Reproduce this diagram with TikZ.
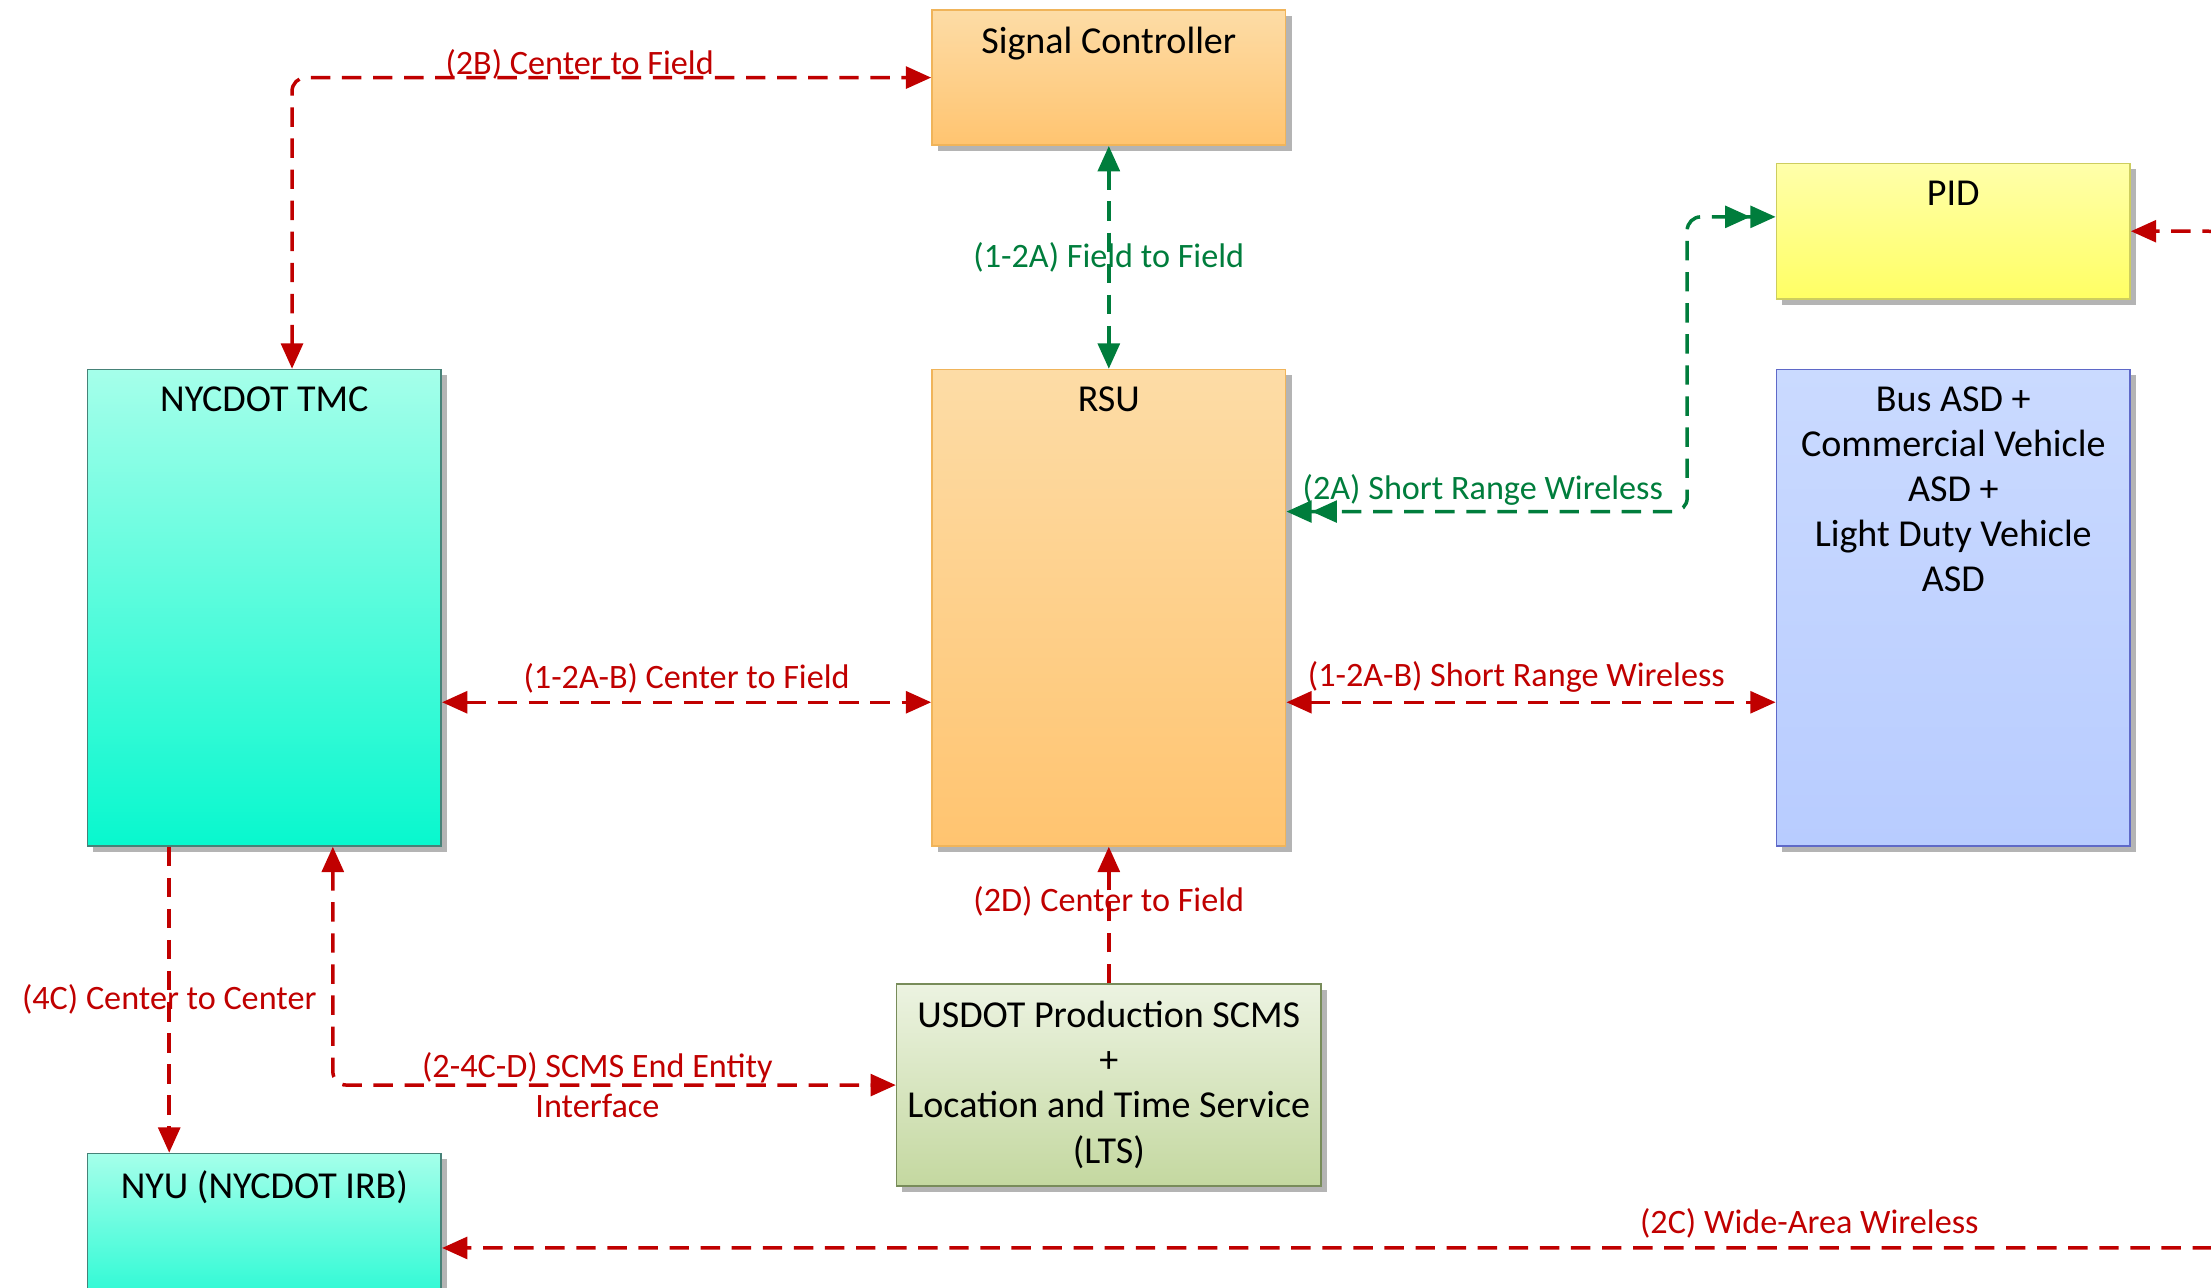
\documentclass[tikz,border=0pt]{standalone}
\usepackage{fontspec}
\setmainfont{Carlito}
\usepackage{tikz}
\usetikzlibrary{arrows.meta}
\usetikzlibrary{shadows}
\usetikzlibrary{positioning}
\definecolor{linkred}{RGB}{192,0,0}
\definecolor{linkgreen}{RGB}{0,125,60}
\definecolor{shadowgray}{RGB}{180,180,180}
\definecolor{orgtop}{RGB}{253,220,166}
\definecolor{orgbot}{RGB}{255,196,112}
\definecolor{orgline}{RGB}{240,180,90}
\definecolor{tealtop}{RGB}{165,255,234}
\definecolor{tealbot}{RGB}{8,248,206}
\definecolor{tealline}{RGB}{70,130,120}
\definecolor{yeltop}{RGB}{255,255,170}
\definecolor{yelbot}{RGB}{255,255,100}
\definecolor{yelline}{RGB}{205,205,95}
\definecolor{bluetop}{RGB}{202,218,255}
\definecolor{bluebot}{RGB}{184,204,255}
\definecolor{blueline}{RGB}{95,105,200}
\definecolor{olvtop}{RGB}{236,243,225}
\definecolor{olvbot}{RGB}{196,216,160}
\definecolor{olvline}{RGB}{120,140,90}
\def\colsep{4.425cm}
\tikzset{
  >={Triangle[length=6.5pt,width=5.6pt]},
  box/.style={rectangle, draw, line width=0.4pt, minimum width=3.2cm, minimum height=4.31cm,
    drop shadow={shadow xshift=1.5pt, shadow yshift=-1.5pt, fill=shadowgray, opacity=1}},
  box title/.style={anchor=north, align=center, inner sep=4.4pt, text=black,
    font=\fontsize{9.8}{11.6}\selectfont},
  box orange/.style={box, draw=orgline, top color=orgtop, bottom color=orgbot},
  box teal/.style={box, draw=tealline, top color=tealtop, bottom color=tealbot},
  box yellow/.style={box, draw=yelline, top color=yeltop, bottom color=yelbot},
  box blue/.style={box, draw=blueline, top color=bluetop, bottom color=bluebot},
  box olive/.style={box, draw=olvline, top color=olvtop, bottom color=olvbot},
  link/.style={line width=0.9pt, dash pattern=on 5pt off 3pt, rounded corners=3.5pt},
  link red/.style={link, linkred, every node/.style={text=linkred, inner sep=2pt}},
  link green/.style={link, linkgreen, every node/.style={text=linkgreen, inner sep=2pt}}
}

\begin{document}
\begin{tikzpicture}[
		x=0.012755cm, y=-0.012755cm,
		font=\fontsize{8.8}{10.2}\selectfont,
	]
	\path[use as bounding box, clip] (0,0) rectangle (1568,913);

	\node[box teal, label={[box title]north:NYCDOT TMC}] (tmc) at (187.5,431) {};
	\node[box orange, right=\colsep of tmc, label={[box title]north:RSU}] (rsu) {};
	\node[box blue, right=\colsep of rsu,
		label={[box title]north:Bus ASD +\\Commercial Vehicle\\ASD +\\Light Duty Vehicle\\ASD}] (asd) {};
	\node[box orange, above=2.015cm of rsu, minimum height=1.224cm,
		label={[box title]north:Signal Controller}] (sc) {};
	\node[box yellow, above=0.625cm of asd, minimum height=1.224cm,
		label={[box title]north:PID}] (pid) {};
	\node[box olive, below=1.237cm of rsu, minimum width=3.84cm, minimum height=1.824cm,
		label={[box title]north:USDOT Production SCMS\\+\\Location and Time Service\\(LTS)}] (scms) {};
	\node[box teal, below=2.768cm of tmc, minimum height=1.709cm,
		label={[box title]north:NYU (NYCDOT IRB)}] (nyu) {};

	% links leaving the frame
	\coordinate (pidfar) at (1576,300);
	\coordinate (wanfar) at (1576,800);

	\draw[link red, <->] ([xshift=0.25cm]tmc.north) |- node[pos=0.725, above, yshift=-3pt] {(2B) Center to Field} (sc.west);
	\draw[link green, <->] (sc.south) -- node {(1-2A) Field to Field} (rsu.north);
	\draw[link green, <<->>] ([yshift=0.87cm]rsu.east) -| node[pos=0.245, above, yshift=-0.8pt] {(2A) Short Range Wireless}
		([xshift=-0.8cm, yshift=0.13cm]pid.west) -- ([yshift=0.13cm]pid.west);

	\draw[link red, <->] ([yshift=-0.855cm]tmc.east) -- node[above] {(1-2A-B) Center to Field} ([yshift=-0.855cm]rsu.west);
	\draw[link red, <->] ([yshift=-0.855cm]rsu.east) -- node[pos=0.47, above] {(1-2A-B) Short Range Wireless} ([yshift=-0.855cm]asd.west);
	\draw[link red, ->] (scms.north) -- node[pos=0.6] {(2D) Center to Field} (rsu.south);
	\draw[link red, ->] ([xshift=-0.861cm]tmc.south) -- node {(4C) Center to Center} ([xshift=-0.861cm]nyu.north);
	\draw[link red, <->] ([xshift=0.619cm]tmc.south) |- node[pos=0.735, align=center]
		{(2-4C-D) SCMS End Entity\\Interface} (scms.west);

	\draw[link red, ->] (pidfar) |- (pid.east);
	\draw[link red, ->] (wanfar) |- node[pos=0.616, above] {(2C) Wide-Area Wireless} (nyu.east);
\end{tikzpicture}
\end{document}
